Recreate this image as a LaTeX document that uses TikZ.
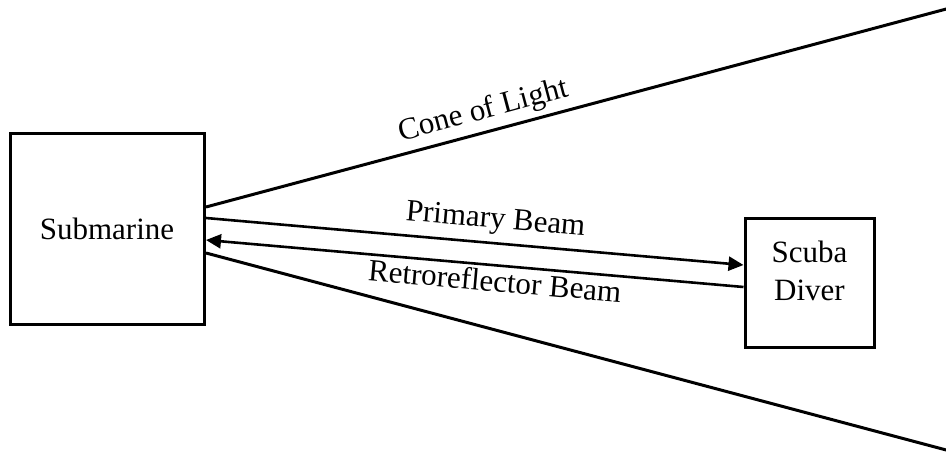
\documentclass[tikz,border=0pt]{standalone}
\usepackage{fontspec}
\setmainfont{Liberation Serif}
\usetikzlibrary{arrows.meta}
\begin{document}
\begin{tikzpicture}[x=1pt,y=-1pt,
  boxstyle/.style={draw,line width=3pt,minimum width=191pt,inner sep=0pt},
  beam/.style={line width=3pt},
  arrowbeam/.style={line width=2.6pt,-{Triangle[length=15pt,width=14pt]}},
  lbl/.style={font=\fontsize{31}{36}\selectfont,sloped,inner sep=0pt}]
\useasboundingbox (0,0) rectangle (946,452);
\node[boxstyle,minimum width=194pt,minimum height=191pt,font=\fontsize{31}{36}\selectfont] (sub) at (107,228.5) {Submarine};
\node[boxstyle,minimum width=129pt,minimum height=129pt] (diver) at (809.5,282.5) {};
\node[font=\fontsize{31}{38}\selectfont,align=center,anchor=north,inner sep=0pt] (divertext) at ([yshift=-24pt]diver.north) {Scuba\\Diver};
\coordinate (c1) at (206,207);
\coordinate (c1e) at (950,8);
\coordinate (c2) at (206,253);
\coordinate (c2e) at (950,451);
\coordinate (p1) at (206,218);
\coordinate (p2) at (diver.west |- 0,265);
\coordinate (r1) at (diver.west |- 0,287);
\coordinate (r2) at (206,240);
\draw[beam] (c1) -- node[lbl,pos=0.38,above=5pt,anchor=south] (cone) {Cone of Light} (c1e);
\draw[beam] (c2) -- (c2e);
\draw[arrowbeam] (p1) -- node[lbl,pos=0.535,anchor=south,yshift=7pt] (plbl) {Primary Beam} (p2);
\draw[arrowbeam] (r1) -- node[lbl,pos=0.46,anchor=north,yshift=-3pt] (rlbl) {Retroreflector Beam} (r2);
\end{tikzpicture}
\end{document}
